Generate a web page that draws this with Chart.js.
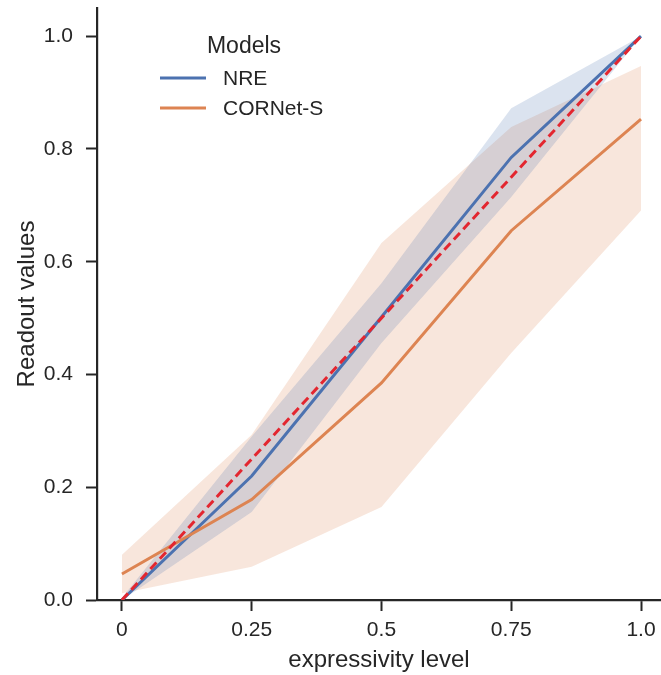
<!DOCTYPE html>
<html>
<head>
<meta charset="utf-8">
<script src="https://cdn.jsdelivr.net/npm/chart.js@4.4.1/dist/chart.umd.min.js"></script>
<style>
  html, body { margin: 0; padding: 0; background: #fff; }
  #wrap { width: 661px; height: 675px; }
</style>
</head>
<body>
<div id="wrap"><canvas id="readout_chart"></canvas></div>
<script>
// x positions (expressivity level)
const levels = [0, 0.25, 0.5, 0.75, 1.0];
const tickLabels = ["0", "0.25", "0.5", "0.75", "1.0"];
const yTicks = [0, 0.2, 0.4, 0.6, 0.8, 1.0];

// NRE
const nreMean = [0, 0.22, 0.502, 0.785, 1.0];
const nreLow = [0, 0.156, 0.456, 0.715, 1.0];
const nreHigh = [0.004, 0.29, 0.562, 0.872, 1.0];

// CORNet-S
const cornetMean = [0.046, 0.178, 0.385, 0.655, 0.853];
const cornetLow = [0.012, 0.059, 0.165, 0.438, 0.691];
const cornetHigh = [0.08, 0.293, 0.633, 0.839, 0.947];

// reference line y = x
const identity = [0, 1.0];
const identityX = [0, 1.0];

const BLUE = "#4c72b0";
const ORANGE = "#dd8452";
const RED = "#e3262f";
const INK = "#262626";
const FONT = "'Liberation Sans', Arial, sans-serif";

function pts(xs, ys) {
  return xs.map(function (x, i) { return { x: x, y: ys[i] }; });
}

function band(ys, color, fillTarget) {
  return {
    data: pts(levels, ys),
    borderWidth: 0,
    pointRadius: 0,
    borderColor: "rgba(0,0,0,0)",
    backgroundColor: color,
    fill: fillTarget,
    order: 3,
    legend: false,
  };
}

const modelLegend = {
  id: "modelLegend",
  afterDraw(chart) {
    const { ctx } = chart;
    ctx.save();
    ctx.fillStyle = INK;
    ctx.textBaseline = "middle";
    ctx.textAlign = "center";
    ctx.font = "23px " + FONT;
    ctx.fillText("Models", 244, 47);
    ctx.textAlign = "left";
    ctx.font = "21px " + FONT;
    var rows = chart.data.datasets.filter(function (d) { return d.legend; });
    rows.forEach(function (d, i) {
      var y = 78 + i * 30;
      ctx.strokeStyle = d.borderColor;
      ctx.lineWidth = 3;
      ctx.beginPath();
      ctx.moveTo(160, y);
      ctx.lineTo(206, y);
      ctx.stroke();
      ctx.fillText(d.label, 223, y + 1);
    });
    ctx.restore();
  },
};

const ctx = document.getElementById("readout_chart").getContext("2d");
const myChart = new Chart(ctx, {
  type: "line",
  plugins: [modelLegend],
  data: {
    datasets: [
      // 0,1: NRE band
      band(nreLow, "rgba(76,114,176,0.2)", false),
      band(nreHigh, "rgba(76,114,176,0.2)", 0),
      // 2,3: CORNet-S band
      band(cornetLow, "rgba(221,132,82,0.2)", false),
      band(cornetHigh, "rgba(221,132,82,0.2)", 2),
      {
        label: "NRE",
        data: pts(levels, nreMean),
        borderColor: BLUE,
        borderWidth: 3,
        pointRadius: 0,
        fill: false,
        order: 2,
        legend: true,
      },
      {
        label: "CORNet-S",
        data: pts(levels, cornetMean),
        borderColor: ORANGE,
        borderWidth: 3,
        pointRadius: 0,
        fill: false,
        order: 1,
        legend: true,
      },
      {
        data: pts(identityX, identity),
        borderColor: RED,
        borderWidth: 3,
        borderDash: [9, 5],
        pointRadius: 0,
        fill: false,
        order: 0,
        legend: false,
      },
    ],
  },
  options: {
    responsive: true,
    maintainAspectRatio: false,
    animation: false,
    layout: { padding: { top: 8, right: 0, left: 0, bottom: 0 } },
    elements: { line: { tension: 0 } },
    plugins: {
      legend: { display: false },
      tooltip: { enabled: false },
    },
    scales: {
      x: {
        type: "linear",
        min: -0.048,
        max: 1.0385,
        afterBuildTicks: function (scale) {
          scale.ticks = levels.map(function (v) { return { value: v }; });
        },
        afterFit: function (scale) {
          scale.height = 75;
          scale.paddingLeft = 0;
          scale.paddingRight = 0;
        },
        ticks: {
          color: INK,
          font: { family: FONT, size: 21 },
          padding: 7,
          maxRotation: 0,
          autoSkip: false,
          callback: function (value, index) { return tickLabels[index]; },
        },
        grid: {
          drawOnChartArea: false,
          drawTicks: true,
          tickLength: 11,
          tickWidth: 2,
          tickColor: INK,
        },
        border: { display: true, color: INK, width: 2.2 },
        title: {
          display: true,
          text: "expressivity level",
          color: INK,
          font: { family: FONT, size: 24 },
          padding: { top: 0, bottom: 0 },
        },
      },
      y: {
        min: 0,
        max: 1.05,
        afterBuildTicks: function (scale) {
          scale.ticks = yTicks.map(function (v) { return { value: v }; });
        },
        afterFit: function (scale) {
          scale.width = 97;
          scale.paddingTop = 0;
          scale.paddingBottom = 0;
        },
        ticks: {
          color: INK,
          font: { family: FONT, size: 21 },
          padding: 13,
          callback: function (value) { return value.toFixed(1); },
        },
        grid: {
          drawOnChartArea: false,
          drawTicks: true,
          tickLength: 11,
          tickWidth: 2,
          tickColor: INK,
        },
        border: { display: true, color: INK, width: 2.2 },
        title: {
          display: true,
          text: "Readout values",
          color: INK,
          font: { family: FONT, size: 24 },
          padding: { top: 13, bottom: 0 },
        },
      },
    },
  },
});
</script>
</body>
</html>
